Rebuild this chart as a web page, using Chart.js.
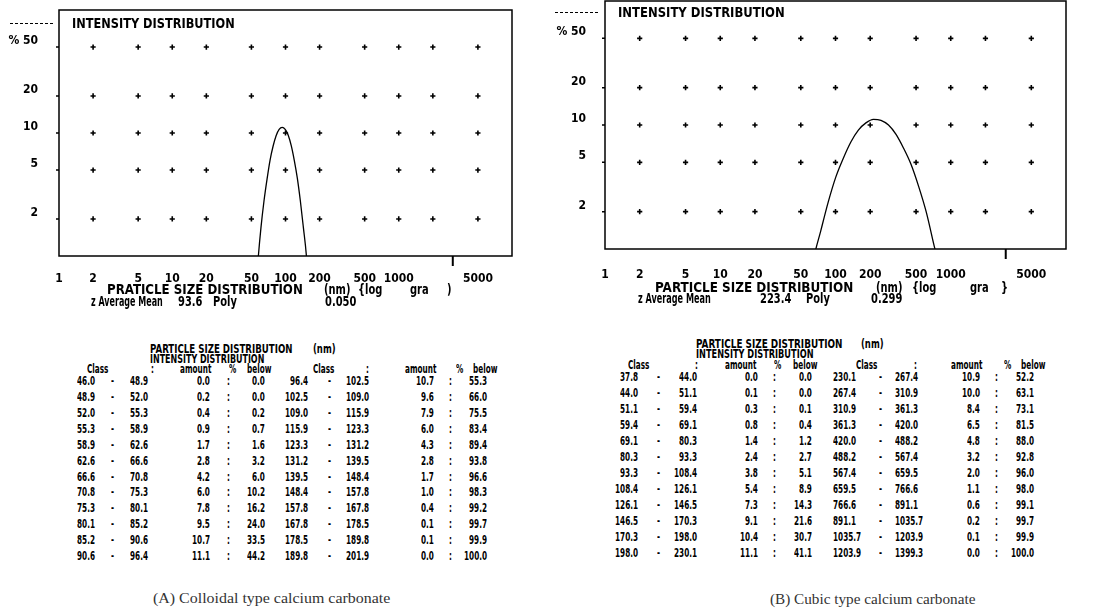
<!DOCTYPE html>
<html>
<head>
<meta charset="utf-8">
<script src="https://cdn.jsdelivr.net/npm/chart.js@4.4.1/dist/chart.umd.min.js"></script>
<style>
  body { margin: 0; width: 1097px; height: 612px; overflow: hidden; background: #fff; position: relative;
         font-family: "DejaVu Sans Condensed", "DejaVu Sans", sans-serif; }
  .box { position: absolute; }
  .t { position: absolute; white-space: pre; line-height: 1; font-weight: bold; color: #000; transform-origin: 0 0; }
  .big { font-size: 11px; }
  .tab { font-size: 9px; }
  .cap { font-family: "Liberation Serif", serif; font-weight: normal; font-size: 15px; color: #333; }
  .dash { position: absolute; border-top: 1px dashed #000; }
</style>
</head>
<body>
<div class="box" style="left:0;top:0;width:548px;height:300px"><canvas id="chartA"></canvas></div>
<div class="box" style="left:548px;top:-10px;width:549px;height:310px"><canvas id="chartB"></canvas></div>
<div class="dash" style="left:10px;top:23px;width:43px"></div>
<div class="dash" style="left:555px;top:12px;width:43px"></div>
<script>
// axes (log-log, nm vs %)
const xTicks = [1, 2, 5, 10, 20, 50, 100, 200, 500, 1000, 5000];
const gridX = [2, 5, 10, 20, 50, 100, 200, 500, 1000, 2000, 5000];
const yTicks = [2, 5, 10, 20, 50];
const cursorX = 3000;

// (A) colloidal type - class edges (nm), amount %, % below
const edgesA = [46.0, 48.9, 52.0, 55.3, 58.9, 62.6, 66.6, 70.8, 75.3, 80.1, 85.2, 90.6, 96.4,
  102.5, 109.0, 115.9, 123.3, 131.2, 139.5, 148.4, 157.8, 167.8, 178.5, 189.8, 201.9];
const amountA = [0.0, 0.2, 0.4, 0.9, 1.7, 2.8, 4.2, 6.0, 7.8, 9.5, 10.7, 11.1,
  10.7, 9.6, 7.9, 6.0, 4.3, 2.8, 1.7, 1.0, 0.4, 0.1, 0.1, 0.0];
const belowA = [0.0, 0.0, 0.2, 0.7, 1.6, 3.2, 6.0, 10.2, 16.2, 24.0, 33.5, 44.2,
  55.3, 66.0, 75.5, 83.4, 89.4, 93.8, 96.6, 98.3, 99.2, 99.7, 99.9, 100.0];

// (B) cubic type
const edgesB = [37.8, 44.0, 51.1, 59.4, 69.1, 80.3, 93.3, 108.4, 126.1, 146.5, 170.3, 198.0, 230.1,
  267.4, 310.9, 361.3, 420.0, 488.2, 567.4, 659.5, 766.6, 891.1, 1035.7, 1203.9, 1399.3];
const amountB = [0.0, 0.1, 0.3, 0.8, 1.4, 2.4, 3.8, 5.4, 7.3, 9.1, 10.4, 11.1,
  10.9, 10.0, 8.4, 6.5, 4.8, 3.2, 2.0, 1.1, 0.6, 0.2, 0.1, 0.0];
const belowB = [0.0, 0.0, 0.1, 0.4, 1.2, 2.7, 5.1, 8.9, 14.3, 21.6, 30.7, 41.1,
  52.2, 63.1, 73.1, 81.5, 88.0, 92.8, 96.0, 98.0, 99.1, 99.7, 99.9, 100.0];

const tickFont = { family: '"DejaVu Sans Condensed", "DejaVu Sans", sans-serif', weight: 'bold', size: 12 };

// box around the plot, little notches on the left edge, cursor mark under it
const framePlugin = {
  id: 'frame',
  afterDatasetsDraw(chart) {
    const { ctx, chartArea: a, scales: { x, y } } = chart;
    ctx.save();
    ctx.strokeStyle = '#000';
    ctx.lineWidth = 1.5;
    ctx.strokeRect(a.left, a.top, a.right - a.left, a.bottom - a.top);
    ctx.beginPath();
    yTicks.forEach(v => {
      const py = y.getPixelForValue(v);
      ctx.moveTo(a.left - 3, py);
      ctx.lineTo(a.left, py);
    });
    ctx.stroke();
    const px = x.getPixelForValue(cursorX);
    ctx.lineWidth = 2;
    ctx.beginPath();
    ctx.moveTo(px, a.bottom);
    ctx.lineTo(px, a.bottom + 10);
    ctx.stroke();
    ctx.restore();
  }
};

function drawChart(id, edges, amounts, area) {
  const curve = amounts.map((y, i) => ({ x: Math.sqrt(edges[i] * edges[i + 1]), y }));
  const dots = [];
  gridX.forEach(x => yTicks.forEach(y => dots.push({ x, y })));
  return new Chart(document.getElementById(id), {
    type: 'line',
    data: {
      datasets: [
        { data: curve, borderColor: '#000', borderWidth: 1.3, pointRadius: 0, cubicInterpolationMode: 'monotone', fill: false },
        { type: 'scatter', data: dots, pointStyle: 'cross', pointRadius: 2.6, borderColor: '#000', borderWidth: 1.6 }
      ]
    },
    options: {
      responsive: true,
      maintainAspectRatio: false,
      animation: false,
      layout: { padding: { top: area.top, right: area.right, left: 0, bottom: 0 } },
      plugins: { legend: { display: false }, tooltip: { enabled: false } },
      scales: {
        x: {
          type: 'logarithmic', min: 1, max: 10000,
          grid: { display: false, drawTicks: false },
          border: { display: false },
          afterBuildTicks: s => { s.ticks = xTicks.map(v => ({ value: v })); },
          afterFit: s => { s.height = area.xh; },
          ticks: { autoSkip: false, maxRotation: 0, padding: area.xpad, color: '#000', font: tickFont, callback: v => String(v) }
        },
        y: {
          type: 'logarithmic', min: 1, max: 100,
          grid: { drawOnChartArea: false, tickLength: area.ypad, tickColor: 'rgba(0,0,0,0)' },
          border: { display: false },
          afterBuildTicks: s => { s.ticks = yTicks.map(v => ({ value: v })); },
          afterFit: s => { s.width = area.left; },
          ticks: { padding: 0, labelOffset: -6, color: '#000', font: tickFont, callback: v => v === 50 ? '% 50' : String(v) }
        }
      }
    },
    plugins: [framePlugin]
  });
}

drawChart('chartA', edgesA, amountA, { left: 59, top: 10, right: 36, xh: 44, xpad: 16, ypad: 21 });
drawChart('chartB', edgesB, amountB, { left: 57, top: 11, right: 31, xh: 51, xpad: 19, ypad: 19 });

// text helper: place a span, optionally squeeze it to a width
function put(text, x, y, cls, opt) {
  opt = opt || {};
  const s = document.createElement('span');
  s.className = 't ' + cls;
  s.textContent = text;
  document.body.appendChild(s);
  const w = s.offsetWidth, h = s.offsetHeight;
  const sx = opt.w ? opt.w / w : (opt.sx || 1);
  const sy = opt.sy || 1;
  let left = x;
  if (opt.align === 'right') left = x - w * sx;
  if (opt.align === 'center') left = x - w * sx / 2;
  s.style.left = left + 'px';
  s.style.top = (y - h * sy / 2) + 'px';
  s.style.transform = `scale(${sx}, ${sy})`;
}

const big = w => ({ w, sy: 1.25 });
const plain = { sy: 1.25 };
put('INTENSITY DISTRIBUTION', 72, 24, 'big', big(163));
put('INTENSITY DISTRIBUTION', 618, 13, 'big', big(167));

put('PRATICLE SIZE DISTRIBUTION', 107, 290, 'big', big(196));
put('(nm)', 324, 290, 'big', plain);
put('{log', 358, 290, 'big', plain);
put('gra', 410, 290, 'big', plain);
put(')', 447, 290, 'big', plain);
put('z Average Mean', 91, 302, 'big', big(72));
put('93.6', 178, 302, 'big', plain);
put('Poly', 213, 302, 'big', plain);
put('0.050', 325, 302, 'big', plain);

put('PARTICLE SIZE DISTRIBUTION', 655, 288, 'big', big(198));
put('(nm)', 876, 288, 'big', plain);
put('{log', 912, 288, 'big', plain);
put('gra', 970, 288, 'big', plain);
put('}', 1001, 288, 'big', plain);
put('z Average Mean', 638, 299, 'big', big(73));
put('223.4', 760, 299, 'big', plain);
put('Poly', 806, 299, 'big', plain);
put('0.299', 871, 299, 'big', plain);

// tables
const tabOpt = { sx: 0.9, sy: 1.3 };
function tableHead(title, tx, tw, nmx, ty, heads, hy) {
  put(title, tx, ty, 'tab', { w: tw, sy: 1.3 });
  put('(nm)', nmx, ty, 'tab', { w: 23, sy: 1.3 });
  put('INTENSITY DISTRIBUTION', tx, ty + 10, 'tab', { w: tw * 0.8, sy: 1.3 });
  heads.forEach(([t, x, al]) => put(t, x, hy, 'tab', Object.assign({ align: al }, tabOpt)));
}
function tableRows(edges, amounts, below, cols, y0, dy) {
  const half = amounts.length / 2;
  for (let r = 0; r < half; r++) {
    [r, r + half].forEach((i, h) => {
      const vals = [edges[i].toFixed(1), '-', edges[i + 1].toFixed(1), amounts[i].toFixed(1), ':', below[i].toFixed(1)];
      vals.forEach((v, k) => put(v, cols[h][k][0], y0 + r * dy, 'tab', Object.assign({ align: cols[h][k][1] }, tabOpt)));
    });
  }
}

tableHead('PARTICLE SIZE DISTRIBUTION', 150, 143, 313, 350, [
  ['Class', 87], [':', 152, 'center'], ['amount', 180], ['%', 233, 'center'], ['below', 247],
  ['Class', 313], [':', 367, 'center'], ['amount', 405], ['%', 460, 'center'], ['below', 473]
], 370);
tableRows(edgesA, amountA, belowA, [
  [[95, 'right'], [112, 'center'], [148, 'right'], [210, 'right'], [228, 'center'], [265, 'right']],
  [[308, 'right'], [329, 'center'], [369, 'right'], [434, 'right'], [450, 'center'], [487, 'right']]
], 382, 15.9);

tableHead('PARTICLE SIZE DISTRIBUTION', 696, 147, 861, 345, [
  ['Class', 628], [':', 696, 'center'], ['amount', 725], ['%', 778, 'center'], ['below', 793],
  ['Class', 856], [':', 915, 'center'], ['amount', 951], ['%', 1008, 'center'], ['below', 1021]
], 366);
tableRows(edgesB, amountB, belowB, [
  [[638, 'right'], [658, 'center'], [697, 'right'], [758, 'right'], [774, 'center'], [812, 'right']],
  [[833, 'left'], [880, 'center'], [895, 'left'], [980, 'right'], [996, 'center'], [1034, 'right']]
], 377.5, 16);

put('(A) Colloidal type calcium carbonate', 153, 598, 'cap', { w: 237 });
put('(B) Cubic type calcium carbonate', 770, 599, 'cap', { w: 205 });
</script>
</body>
</html>
